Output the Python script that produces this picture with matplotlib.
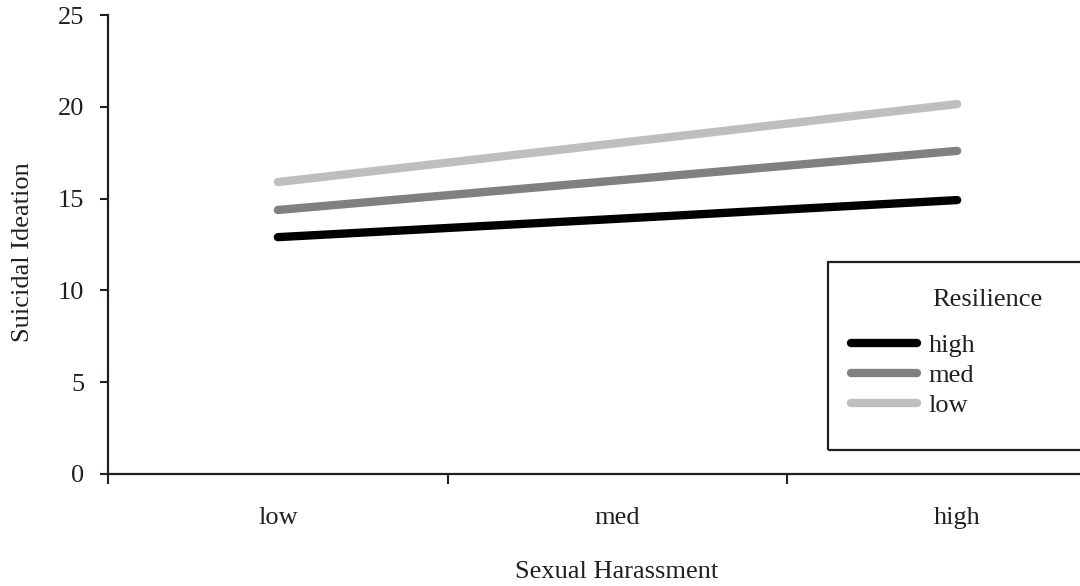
import matplotlib.pyplot as plt
from matplotlib.patches import Rectangle

plt.rcParams['font.family'] = ['Liberation Serif', 'DejaVu Serif']

harassment = ["low", "med", "high"]
resilience = ["high", "med", "low"]
ideation = {
    "high": [12.9, 13.9, 14.92],
    "med": [14.38, 15.99, 17.6],
    "low": [15.9, 18.02, 20.15],
}
line_colors = {"high": "#000000", "med": "#808084", "low": "#bdbebf"}
y_ticks = [0, 5, 10, 15, 20, 25]

ink = "#231f20"
fs = 19

fig = plt.figure(figsize=(10.8, 5.86), dpi=100)
ax = fig.add_axes([108 / 1080, 112 / 586, 1019 / 1080, 459 / 586])

x = list(range(len(harassment)))
handles = []
for r in resilience:
    h, = ax.plot(x, ideation[r], color=line_colors[r], lw=6,
                 solid_capstyle="round", label=r)
    handles.append(h)

ax.set_xlim(-0.5, 2.5)
ax.set_ylim(0, 25)
ax.set_yticks(y_ticks)
ax.set_yticklabels([str(v) for v in y_ticks])
ax.set_xticks([-0.5, 0.5, 1.5, 2.5])
ax.set_xticklabels([])
ax.set_xticks(x, minor=True)
ax.set_xticklabels(harassment, minor=True)
ax.tick_params(axis="x", which="major", length=7, width=1.5, color=ink)
ax.tick_params(axis="x", which="minor", length=0, pad=24, labelsize=fs,
               labelcolor=ink)
ax.tick_params(axis="y", length=6, width=1.5, color=ink, pad=11,
               labelsize=fs, labelcolor=ink)

for s in ["top", "right"]:
    ax.spines[s].set_visible(False)
for s in ["left", "bottom"]:
    ax.spines[s].set_linewidth(1.6)
    ax.spines[s].set_color(ink)

ax.set_xlabel("Sexual Harassment", fontsize=fs, color=ink, va="center")
ax.xaxis.set_label_coords(617 / 1080, (586 - 572) / 586,
                          transform=fig.transFigure)
ax.set_ylabel("Suicidal Ideation", fontsize=fs, color=ink, va="center")
ax.yaxis.set_label_coords(23 / 1080, (586 - 252) / 586,
                          transform=fig.transFigure)

# legend box
fig.add_artist(Rectangle((828 / 1080, (586 - 450) / 586), 300 / 1080,
                         188 / 586, transform=fig.transFigure,
                         fill=False, lw=1.6, edgecolor=ink, clip_on=False))
fig.text(932 / 1080, (586 - 300) / 586, "Resilience", fontsize=fs,
         color=ink, va="center", ha="left")
leg = ax.legend(handles=handles, loc="upper left",
                bbox_to_anchor=(851 / 1080, (586 - 334) / 586),
                bbox_transform=fig.transFigure, frameon=False, fontsize=fs,
                handlelength=2.5, handletextpad=0.45, labelspacing=0.24,
                borderpad=0, borderaxespad=0)
for t in leg.get_texts():
    t.set_color(ink)

fig.savefig("out.png", dpi=100)
